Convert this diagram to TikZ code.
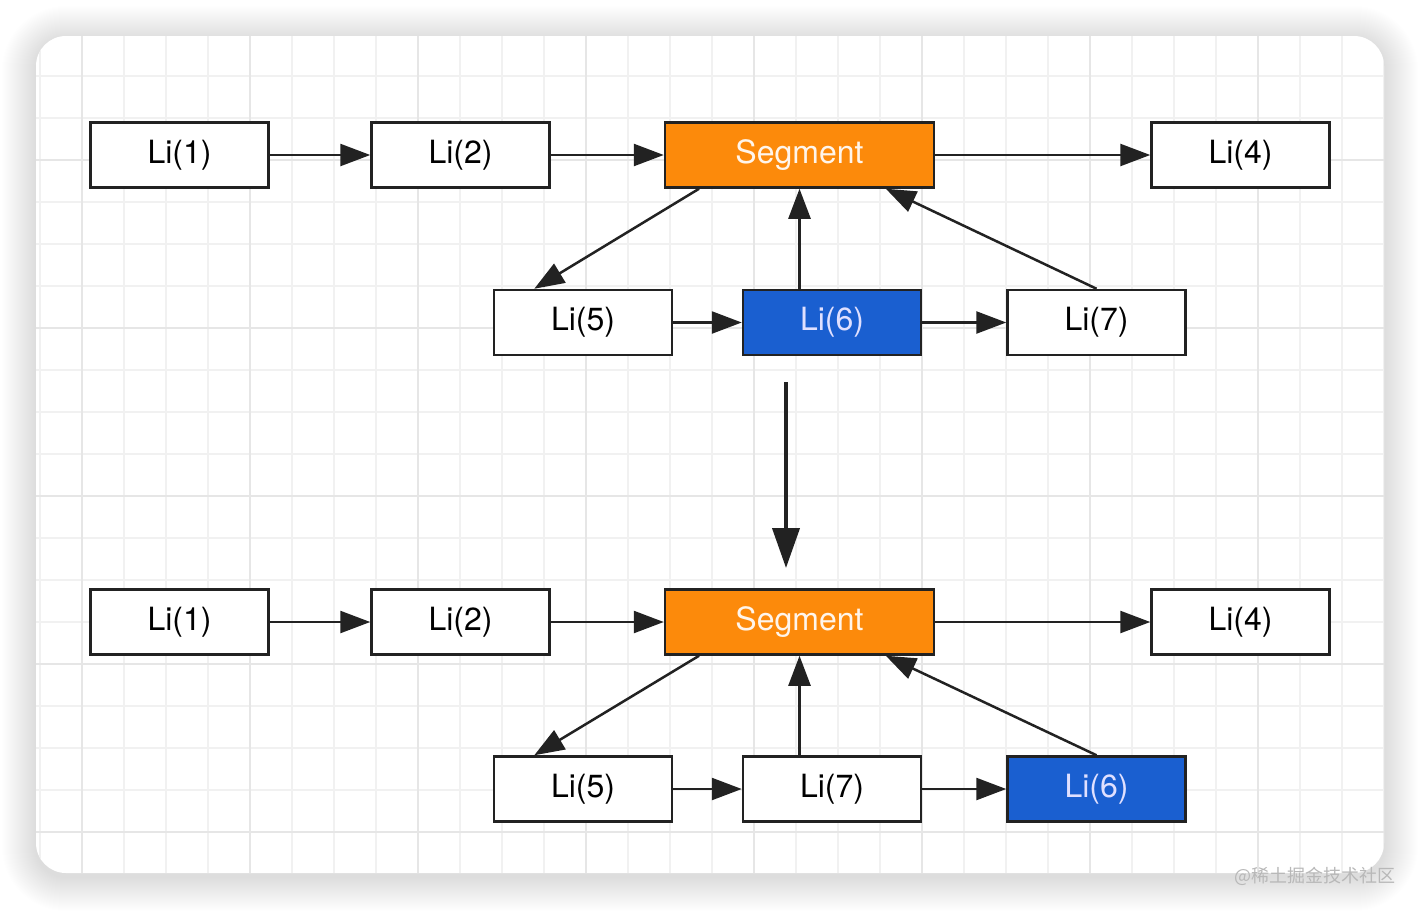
\documentclass[tikz,border=0pt]{standalone}
\usepackage{fontspec}
\setmainfont{TeX Gyre Heros}
\newfontfamily\cjk{Noto Sans CJK SC}
\usetikzlibrary{arrows.meta,calc}
\definecolor{segorange}{HTML}{FC8A0B}
\definecolor{selblue}{HTML}{1A5FD0}
\definecolor{boxline}{HTML}{222222}
\definecolor{gridminor}{HTML}{F1F1F1}
\definecolor{gridmajor}{HTML}{E6E6E6}
\definecolor{wmgray}{HTML}{B8B8B8}
\tikzset{
  lbox/.style={draw=boxline, line width=2.5pt, fill=white, minimum width=178pt, minimum height=65pt, inner sep=0pt, font=\fontsize{32}{36}\selectfont, text=black},
  segbox/.style={lbox, fill=segorange, minimum width=269pt, text=white!92!orange},
  bluebox/.style={lbox, fill=selblue, text=white!88!blue},
  conn/.style={draw=boxline, line width=2.5pt, -{Triangle[length=30pt,width=22pt]}},
  bigconn/.style={draw=boxline, line width=4pt, -{Triangle[length=40pt,width=27pt]}}
}
\begin{document}
\begin{tikzpicture}[x=1pt,y=-1pt]
\useasboundingbox (0,0) rectangle (1420,910);
\fill[white] (0,0) rectangle (1420,910);
% shadow
\foreach \i in {1,...,34}{
  \pgfmathsetmacro\r{30+\i}
  \fill[black,opacity=0.0055,rounded corners=\r pt] (36-\i,40-\i) rectangle (1384+\i,877+\i);
}
% card
\fill[white,rounded corners=30pt] (36,36) rectangle (1384,873);
\begin{scope}
  \clip[rounded corners=30pt] (36,36) rectangle (1384,873);
  \foreach \x in {40,82,...,1384} \draw[gridminor,line width=1.8pt] (\x,36) -- (\x,873);
  \foreach \y in {76,118,...,873} \draw[gridminor,line width=1.8pt] (36,\y) -- (1384,\y);
  \foreach \x in {82,250,...,1384} \draw[gridmajor,line width=2pt] (\x,36) -- (\x,873);
  \foreach \y in {160,328,...,873} \draw[gridmajor,line width=2pt] (36,\y) -- (1384,\y);
\end{scope}

% ---------- top diagram ----------
\node[lbox] (ta1) at (179.5,155) {Li(1)};
\node[lbox] (ta2) at (460.5,155) {Li(2)};
\node[segbox] (tseg) at (799.5,155) {Segment};
\node[lbox] (ta4) at (1240.5,155) {Li(4)};
\node[lbox] (tb5) at (583,322.5) {Li(5)};
\node[bluebox] (tb6) at (832,322.5) {Li(6)};
\node[lbox] (tb7) at (1096.5,322.5) {Li(7)};

\draw[conn] (ta1) -- (ta2);
\draw[conn] (ta2) -- (tseg);
\draw[conn] (tseg) -- (ta4);
\draw[conn] (tb5) -- (tb6);
\draw[conn] (tb6) -- (tb7);
\draw[conn] ($(tseg.south west)!0.13!(tseg.south east)$) -- ($(tb5.north west)!0.23!(tb5.north east)$);
\draw[conn] (tseg.south |- tb6.north) -- (tseg.south);
\draw[conn] (tb7.north) -- ($(tseg.south west)!0.818!(tseg.south east)$);

% ---------- big arrow ----------
\coordinate (bigA) at (786,382);
\coordinate (bigB) at (786,568);
\draw[bigconn] (bigA) -- (bigB);

% ---------- bottom diagram ----------
\node[lbox] (ba1) at (179.5,622) {Li(1)};
\node[lbox] (ba2) at (460.5,622) {Li(2)};
\node[segbox] (bseg) at (799.5,622) {Segment};
\node[lbox] (ba4) at (1240.5,622) {Li(4)};
\node[lbox] (bb5) at (583,789) {Li(5)};
\node[lbox] (bb7) at (832,789) {Li(7)};
\node[bluebox] (bb6) at (1096.5,789) {Li(6)};

\draw[conn] (ba1) -- (ba2);
\draw[conn] (ba2) -- (bseg);
\draw[conn] (bseg) -- (ba4);
\draw[conn] (bb5) -- (bb7);
\draw[conn] (bb7) -- (bb6);
\draw[conn] ($(bseg.south west)!0.13!(bseg.south east)$) -- ($(bb5.north west)!0.23!(bb5.north east)$);
\draw[conn] (bseg.south |- bb7.north) -- (bseg.south);
\draw[conn] (bb6.north) -- ($(bseg.south west)!0.818!(bseg.south east)$);

% watermark
\node[text=wmgray, font=\cjk\fontsize{18}{20}\selectfont, inner sep=0pt] (wm) at (1315,876) {@稀土掘金技术社区};
\end{tikzpicture}
\end{document}
